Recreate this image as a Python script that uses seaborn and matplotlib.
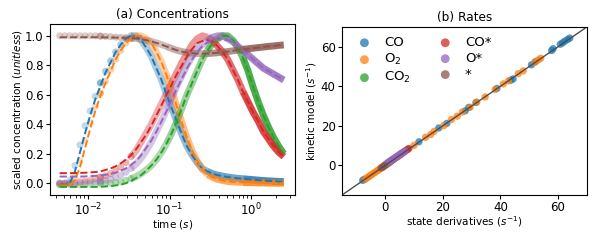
import numpy as np
import pandas as pd
import matplotlib
matplotlib.use("Agg")
import matplotlib.pyplot as plt
import seaborn as sns

# ---------------- (a) Concentrations ----------------
time_s = [0.00447, 0.00516, 0.00596, 0.00688, 0.00794, 0.00917, 0.01059, 0.01223,
          0.01413, 0.01631, 0.01884, 0.02175, 0.02512, 0.02901, 0.03350, 0.03868,
          0.04467, 0.05158, 0.05957, 0.06879, 0.07943, 0.09173, 0.1059, 0.1223,
          0.1413, 0.1631, 0.1884, 0.2175, 0.2512, 0.2901, 0.3350, 0.3868,
          0.4467, 0.5158, 0.5957, 0.6879, 0.7943, 0.9173, 1.059, 1.223,
          1.413, 1.631, 1.884, 2.175, 2.512]

co_data = [0.00, 0.00, 0.02, 0.12, 0.26, 0.39, 0.49, 0.59, 0.68, 0.76, 0.83, 0.89, 0.94, 0.98, 1.00,
           1.00, 0.97, 0.92, 0.86, 0.78, 0.70, 0.60, 0.51, 0.42, 0.33, 0.25, 0.19, 0.14, 0.10, 0.08,
           0.065, 0.055, 0.048, 0.042, 0.037, 0.033, 0.030, 0.027, 0.024, 0.021, 0.018, 0.016, 0.014, 0.012, 0.011]
co_model = [-0.01, -0.01, 0.00, 0.08, 0.21, 0.34, 0.46, 0.57, 0.66, 0.75, 0.82, 0.89, 0.94, 0.98, 1.00,
            1.00, 0.97, 0.92, 0.86, 0.78, 0.70, 0.60, 0.51, 0.42, 0.33, 0.25, 0.19, 0.14, 0.10, 0.08,
            0.065, 0.055, 0.048, 0.042, 0.037, 0.033, 0.030, 0.027, 0.024, 0.021, 0.018, 0.016, 0.014, 0.012, 0.011]

o2_data = [-0.01, -0.01, 0.00, 0.04, 0.15, 0.29, 0.41, 0.52, 0.61, 0.69, 0.77, 0.84, 0.90, 0.95, 0.98,
           1.00, 1.00, 0.98, 0.95, 0.89, 0.82, 0.73, 0.63, 0.52, 0.41, 0.31, 0.22, 0.15, 0.095, 0.06,
           0.04, 0.026, 0.018, 0.012, 0.009, 0.007, 0.005, 0.004, 0.003, 0.002, 0.002, 0.001, 0.001, 0.0, 0.0]
o2_model = [-0.015, -0.015, -0.01, 0.02, 0.11, 0.24, 0.37, 0.49, 0.59, 0.68, 0.76, 0.84, 0.90, 0.95, 0.98,
            1.00, 1.00, 0.98, 0.95, 0.89, 0.82, 0.73, 0.63, 0.52, 0.41, 0.31, 0.22, 0.15, 0.095, 0.06,
            0.04, 0.026, 0.018, 0.012, 0.009, 0.007, 0.005, 0.004, 0.003, 0.002, 0.002, 0.001, 0.001, 0.0, 0.0]

co2_data = [-0.01, -0.01, -0.01, -0.01, -0.01, -0.005, -0.005, 0.0, 0.0, 0.0, 0.0, 0.005, 0.01, 0.02, 0.03,
            0.045, 0.065, 0.09, 0.12, 0.16, 0.21, 0.27, 0.34, 0.42, 0.51, 0.60, 0.68, 0.76, 0.84, 0.90,
            0.95, 0.98, 1.00, 1.00, 0.97, 0.92, 0.85, 0.76, 0.65, 0.55, 0.46, 0.38, 0.31, 0.25, 0.20]
co2_model = [-0.025, -0.025, -0.025, -0.025, -0.025, -0.025, -0.025, -0.025, -0.025, -0.022, -0.02, -0.015, -0.01, 0.0, 0.015,
             0.035, 0.055, 0.085, 0.12, 0.16, 0.21, 0.27, 0.34, 0.42, 0.51, 0.60, 0.68, 0.76, 0.84, 0.90,
             0.95, 0.98, 1.00, 1.00, 0.97, 0.92, 0.85, 0.76, 0.65, 0.55, 0.46, 0.38, 0.31, 0.25, 0.20]

cos_data = [0.0, 0.0, 0.0, 0.005, 0.01, 0.015, 0.02, 0.03, 0.04, 0.05, 0.065, 0.085, 0.11, 0.14, 0.18,
            0.22, 0.28, 0.34, 0.40, 0.47, 0.54, 0.61, 0.68, 0.75, 0.82, 0.88, 0.94, 0.98, 1.00, 0.99,
            0.97, 0.93, 0.89, 0.84, 0.77, 0.70, 0.62, 0.55, 0.48, 0.42, 0.35, 0.30, 0.25, 0.21, 0.18]
cos_model = [0.068, 0.068, 0.068, 0.069, 0.07, 0.071, 0.073, 0.076, 0.08, 0.09, 0.10, 0.115, 0.135, 0.16, 0.19,
             0.23, 0.28, 0.33, 0.39, 0.46, 0.53, 0.60, 0.67, 0.74, 0.80, 0.86, 0.91, 0.95, 0.965, 0.97,
             0.96, 0.93, 0.89, 0.84, 0.77, 0.70, 0.62, 0.55, 0.48, 0.42, 0.35, 0.30, 0.25, 0.21, 0.18]

os_data = [0.0, 0.0, 0.0, 0.0, 0.003, 0.005, 0.007, 0.01, 0.014, 0.02, 0.028, 0.04, 0.055, 0.075, 0.10,
           0.13, 0.17, 0.22, 0.28, 0.35, 0.42, 0.50, 0.58, 0.66, 0.73, 0.80, 0.86, 0.91, 0.94, 0.97,
           0.99, 1.00, 1.00, 0.98, 0.96, 0.93, 0.90, 0.87, 0.84, 0.81, 0.78, 0.76, 0.74, 0.72, 0.70]
os_model = [0.045, 0.045, 0.045, 0.045, 0.045, 0.046, 0.048, 0.05, 0.053, 0.057, 0.063, 0.072, 0.085, 0.10, 0.125,
            0.15, 0.19, 0.24, 0.29, 0.35, 0.42, 0.49, 0.57, 0.64, 0.71, 0.78, 0.84, 0.89, 0.93, 0.955,
            0.97, 0.975, 0.975, 0.97, 0.955, 0.93, 0.90, 0.87, 0.84, 0.81, 0.78, 0.76, 0.74, 0.72, 0.70]

star_data = [1.0, 1.0, 1.0, 1.0, 1.0, 1.0, 1.0, 1.0, 0.998, 0.996, 0.994, 0.991, 0.988, 0.987, 0.985,
             0.981, 0.976, 0.97, 0.962, 0.952, 0.94, 0.927, 0.914, 0.902, 0.893, 0.886, 0.882, 0.88, 0.879, 0.88,
             0.882, 0.885, 0.889, 0.893, 0.898, 0.903, 0.908, 0.912, 0.916, 0.92, 0.924, 0.928, 0.931, 0.935, 0.938]
star_model = [0.99, 0.99, 0.99, 0.99, 0.99, 0.99, 0.99, 0.99, 0.99, 0.989, 0.988, 0.988, 0.987, 0.986, 0.985,
              0.981, 0.976, 0.97, 0.962, 0.952, 0.94, 0.927, 0.914, 0.902, 0.893, 0.886, 0.882, 0.88, 0.879, 0.88,
              0.882, 0.885, 0.889, 0.893, 0.898, 0.903, 0.908, 0.912, 0.916, 0.92, 0.924, 0.928, 0.931, 0.935, 0.938]

# ---------------- (b) Rates ----------------
co_deriv = [-7.8, -7.3, 11.7, 18.6, 21.4, 27.8, 29.0, 31.5, 38.8, 43.6, 44.4, 50.8, 52.1, 57.8, 58.3,
            60.8, 61.6, 62.4, 63.4, 64.1]
co_rate = [-7.6, -7.1, 11.9, 18.9, 21.2, 27.6, 29.3, 31.8, 38.9, 43.1, 43.7, 50.9, 52.4, 58.1, 59.0,
           61.3, 62.0, 62.9, 63.7, 64.4]
o2_deriv = [-7.0, -6.4, -5.8, -5.2, -4.6, -4.0, -3.4, -2.8, -2.2, -1.6, -1.0, -0.4, 0.2, 0.8, 1.5,
            10.0, 14.0, 15.8, 17.0, 20.3, 23.0, 25.0, 26.8, 29.5, 31.8, 34.7, 38.2, 41.0, 42.8, 46.2,
            47.9, 52.0, 53.1, 54.0]
o2_rate = [-7.1, -6.3, -5.9, -5.1, -4.7, -3.9, -3.5, -2.7, -2.3, -1.5, -1.1, -0.3, 0.1, 0.9, 1.4,
           10.1, 14.2, 15.6, 17.2, 20.1, 23.2, 24.9, 27.0, 29.4, 32.0, 34.6, 38.4, 41.2, 42.7, 46.4,
           47.8, 52.2, 53.3, 54.2]
co2_deriv = [0.3, 1.0, 1.8, 2.5, 3.2, 4.0, 4.8, 5.5]
co2_rate = [0.4, 1.2, 1.9, 2.7, 3.4, 4.2, 5.0, 5.7]
cos_deriv = [0.5, 1.2, 2.0, 2.8, 3.6, 4.4, 5.2, 6.0, 6.7, 7.3, 7.8, 8.2]
cos_rate = [0.6, 1.3, 2.2, 2.9, 3.8, 4.5, 5.4, 6.2, 6.9, 7.6, 8.1, 8.5]
os_deriv = [0.1, 0.5, 0.9, 1.3, 1.7, 2.1, 2.5, 2.9, 3.3, 3.7, 4.1, 4.5, 4.9, 5.3, 5.7, 6.1, 6.5, 6.9]
os_rate = [0.3, 0.9, 1.2, 1.8, 2.0, 2.6, 2.8, 3.4, 3.6, 4.2, 4.4, 5.0, 5.2, 5.8, 6.0, 6.6, 6.8, 7.3]
star_deriv = [-1.4, -1.1, -0.8, -0.5, -0.2]
star_rate = [-1.3, -1.0, -0.8, -0.4, -0.1]
diag = [-15, 70]

species = ["CO", "O$_2$", "CO$_2$", "CO*", "O*", "*"]

colors = sns.color_palette("tab10", 6)

fig = plt.figure(figsize=(6, 2.4), dpi=100)
ax1 = fig.add_axes([0.0833, 0.1875, 0.4084, 0.7125])
ax2 = fig.add_axes([0.570, 0.1875, 0.408, 0.700])

t = np.array(time_s)
data_sets = [co_data, o2_data, co2_data, cos_data, os_data, star_data]
model_sets = [co_model, o2_model, co2_model, cos_model, os_model, star_model]
dot_chunks = [(0, 9, 0.28), (8, 15, 0.36)]
band_chunks = [(14, 22, 0.38), (21, 30, 0.48), (29, 37, 0.66), (36, 45, 0.85)]

for c, d in zip(colors, data_sets):
    d = np.array(d)
    for a, b, al in dot_chunks:
        sns.scatterplot(x=t[a:b], y=d[a:b], ax=ax1, color=c, alpha=al, s=26,
                        edgecolor="none", legend=False)
    for a, b, al in band_chunks:
        sns.lineplot(x=t[a:b], y=d[a:b], ax=ax1, color=c, alpha=al, lw=5.0,
                     sort=False, estimator=None, legend=False, solid_capstyle="butt")
for c, m in zip(colors, model_sets):
    sns.lineplot(x=t, y=np.array(m), ax=ax1, color=c, lw=1.4, linestyle="--",
                 sort=False, estimator=None, legend=False)

ax1.set_xscale("log")
ax1.set_xlim(0.0034, 3.45)
ax1.set_ylim(-0.08, 1.08)
ax1.set_yticks([0.0, 0.2, 0.4, 0.6, 0.8, 1.0])
ax1.set_xlabel("time ($s$)", fontsize=7.5, labelpad=0)
ax1.set_ylabel("scaled concentration ($unitless$)", fontsize=7.5, labelpad=1)
ax1.set_title("(a) Concentrations", fontsize=8.7, pad=4)
ax1.tick_params(labelsize=8.5, pad=1.5, length=3)
ax1.tick_params(which="minor", length=1.8)

# Rates
rx = [co_deriv, o2_deriv, co2_deriv, cos_deriv, os_deriv, star_deriv]
ry = [co_rate, o2_rate, co2_rate, cos_rate, os_rate, star_rate]
for c, lab, xs, ys in zip(colors, species, rx, ry):
    sns.scatterplot(x=xs, y=ys, ax=ax2, color=c, alpha=0.75, s=28, edgecolor="none", label=lab)
sns.lineplot(x=diag, y=diag, ax=ax2, color="0.3", lw=1.0, sort=False, estimator=None, legend=False)
ax2.set_xlim(-15, 70)
ax2.set_ylim(-15, 70)
ax2.set_xticks([0, 20, 40, 60])
ax2.set_yticks([0, 20, 40, 60])
ax2.set_xlabel("state derivatives ($s^{-1}$)", fontsize=7.5, labelpad=0)
ax2.set_ylabel("kinetic model ($s^{-1}$)", fontsize=7.5, labelpad=1)
ax2.set_title("(b) Rates", fontsize=8.7, pad=4)
ax2.tick_params(labelsize=8.5, pad=1.5, length=3)
ax2.legend(ncol=2, frameon=False, loc="upper left", fontsize=9.5, handletextpad=0.5,
           columnspacing=1.6, borderaxespad=0.3, labelspacing=0.22, markerscale=1.2)

fig.savefig("out.png", dpi=100)
